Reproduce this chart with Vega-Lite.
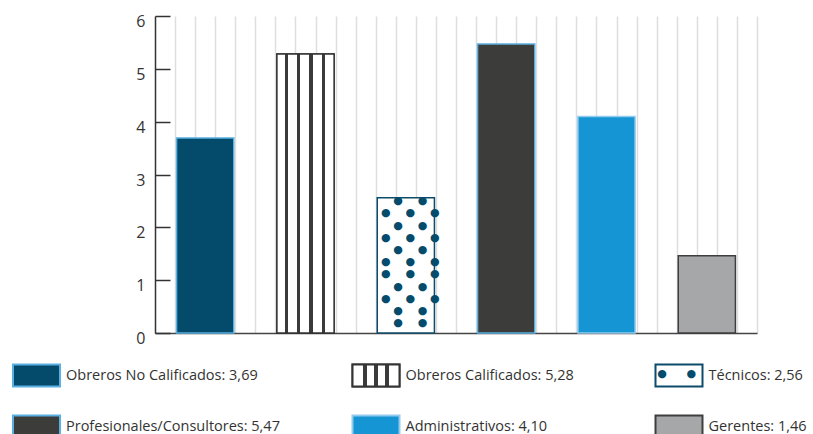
{
  "$schema": "https://vega.github.io/schema/vega-lite/v6.json",
  "autosize": {"type": "none"},
  "width": 602,
  "height": 317,
  "padding": {"left": 155, "top": 16, "right": 56, "bottom": 101},
  "background": "white",
  "config": {"view": {"stroke": null}, "font": "Open Sans"},
  "datasets": {
    "d": [
      {"cat": "Obreros No Calificados", "value": 3.69, "label": "Obreros No Calificados: 3,69"},
      {"cat": "Obreros Calificados", "value": 5.28, "label": "Obreros Calificados: 5,28"},
      {"cat": "Técnicos", "value": 2.56, "label": "Técnicos: 2,56"},
      {"cat": "Profesionales/Consultores", "value": 5.47, "label": "Profesionales/Consultores: 5,47"},
      {"cat": "Administrativos", "value": 4.10, "label": "Administrativos: 4,10"},
      {"cat": "Gerentes", "value": 1.46, "label": "Gerentes: 1,46"}
    ]
  },
  "data": {"name": "d"},
  "layer": [
    {
      "mark": {"type": "rule", "opacity": 0},
      "encoding": {
        "x": {
          "datum": 0,
          "type": "quantitative",
          "scale": {"domain": [0, 30], "nice": false, "zero": false},
          "axis": {
            "orient": "bottom",
            "values": [1,2,3,4,5,6,7,8,9,10,11,12,13,14,15,16,17,18,19,20,21,22,23,24,25,26,27,28,29,30],
            "grid": true,
            "gridColor": "#dedede",
            "gridWidth": 1.5,
            "labels": false,
            "ticks": false,
            "domain": true,
            "domainColor": "#444444",
            "domainWidth": 1.5,
            "title": null
          }
        }
      }
    },
    {
      "layer": [
        {
          "mark": {"type": "bar", "strokeWidth": 1.5},
          "encoding": {
            "x": {
              "field": "cat",
              "type": "nominal",
              "sort": null,
              "scale": {
                "domain": ["Obreros No Calificados", "Obreros Calificados", "Técnicos", "Profesionales/Consultores", "Administrativos", "Gerentes"],
                "paddingInner": 0.43,
                "paddingOuter": 0.215
              },
              "axis": null
            },
            "y": {
              "field": "value",
              "type": "quantitative",
              "scale": {"domain": [0, 6], "nice": false},
              "axis": {
                "orient": "left",
                "values": [0, 1, 2, 3, 4, 5, 6],
                "grid": false,
                "domain": true,
                "domainColor": "#333333",
                "domainWidth": 1.5,
                "ticks": true,
                "tickSize": -15,
                "tickColor": "#333333",
                "tickWidth": 1.5,
                "labelPadding": 25,
                "labelOffset": 5.5,
                "labelFontSize": 16,
                "labelColor": "#333333",
                "labelFont": "Open Sans",
                "title": null
              }
            },
            "fill": {
              "field": "cat",
              "type": "nominal",
              "scale": {
                "domain": ["Obreros No Calificados", "Obreros Calificados", "Técnicos", "Profesionales/Consultores", "Administrativos", "Gerentes"],
                "range": ["#044b6b", "#ffffff", "#ffffff", "#3c3c3b", "#1595d4", "#a6a7a9"]
              },
              "legend": null
            },
            "stroke": {
              "field": "cat",
              "type": "nominal",
              "scale": {
                "domain": ["Obreros No Calificados", "Obreros Calificados", "Técnicos", "Profesionales/Consultores", "Administrativos", "Gerentes"],
                "range": ["#5ab0e2", "#333333", "#0d4b6b", "#5ab0e2", "#92cbee", "#3e3e3e"]
              },
              "legend": null
            }
          }
        },
        {
          "transform": [{"filter": "datum.cat === 'Obreros Calificados'"}],
          "mark": {
            "type": "bar",
            "stroke": "#333333",
            "strokeWidth": 1.5,
            "fill": {
              "gradient": "linear",
              "x1": 0, "x2": 1, "y1": 0, "y2": 0,
              "stops": [
                {"offset": 0, "color": "#ffffff"},
                {"offset": 0.14, "color": "#ffffff"},
                {"offset": 0.14, "color": "#3a3a3a"},
                {"offset": 0.2, "color": "#3a3a3a"},
                {"offset": 0.2, "color": "#ffffff"},
                {"offset": 0.345, "color": "#ffffff"},
                {"offset": 0.345, "color": "#3a3a3a"},
                {"offset": 0.405, "color": "#3a3a3a"},
                {"offset": 0.405, "color": "#ffffff"},
                {"offset": 0.56, "color": "#ffffff"},
                {"offset": 0.56, "color": "#3a3a3a"},
                {"offset": 0.625, "color": "#3a3a3a"},
                {"offset": 0.625, "color": "#ffffff"},
                {"offset": 0.785, "color": "#ffffff"},
                {"offset": 0.785, "color": "#3a3a3a"},
                {"offset": 0.845, "color": "#3a3a3a"},
                {"offset": 0.845, "color": "#ffffff"},
                {"offset": 1, "color": "#ffffff"}
              ]
            }
          },
          "encoding": {
            "x": {"field": "cat", "type": "nominal", "sort": null},
            "y": {"field": "value", "type": "quantitative"}
          }
        },
        {
          "transform": [{"filter": "datum.cat === 'Técnicos'"}],
          "mark": {
            "type": "text",
            "font": "DejaVu Sans",
            "fontSize": 11,
            "lineHeight": 12.2,
            "baseline": "top",
            "align": "center",
            "dx": 4.5,
            "dy": -2.5,
            "color": "#054b6b",
            "text": [
              "●\u00a0\u00a0\u00a0\u2009\u2009●",
              "●\u00a0\u00a0\u00a0\u2009\u2009●\u00a0\u00a0\u00a0\u2009\u2009●",
              "●\u00a0\u00a0\u00a0\u2009\u2009●",
              "●\u00a0\u00a0\u00a0\u2009\u2009●\u00a0\u00a0\u00a0\u2009\u2009●",
              "●\u00a0\u00a0\u00a0\u2009\u2009●",
              "●\u00a0\u00a0\u00a0\u2009\u2009●\u00a0\u00a0\u00a0\u2009\u2009●",
              "●\u00a0\u00a0\u00a0\u2009\u2009●\u00a0\u00a0\u00a0\u2009\u2009●",
              "●\u00a0\u00a0\u00a0\u2009\u2009●",
              "●\u00a0\u00a0\u00a0\u2009\u2009●\u00a0\u00a0\u00a0\u2009\u2009●",
              "●\u00a0\u00a0\u00a0\u2009\u2009●",
              "●\u00a0\u00a0\u00a0\u2009\u2009●"
            ]
          },
          "encoding": {
            "x": {"field": "cat", "type": "nominal", "sort": null},
            "y": {"field": "value", "type": "quantitative"}
          }
        }
      ]
    },
    {
      "transform": [
        {"window": [{"op": "row_number", "as": "rn"}]},
        {"calculate": "(datum.rn - 1) % 3", "as": "col"},
        {"calculate": "floor((datum.rn - 1) / 3)", "as": "row"}
      ],
      "encoding": {
        "x": {"field": "col", "type": "quantitative", "scale": {"domain": [0, 1, 2], "range": [-118.5, 221, 524], "zero": false, "nice": false}, "axis": null},
        "y": {"field": "row", "type": "quantitative", "scale": {"domain": [0, 1], "range": [359.5, 410.5], "zero": false, "nice": false}, "axis": null}
      },
      "layer": [
        {
          "mark": {"type": "rect", "width": 47, "height": 22, "strokeWidth": 2},
          "encoding": {
            "fill": {"field": "cat", "type": "nominal", "legend": null},
            "stroke": {"field": "cat", "type": "nominal", "legend": null}
          }
        },
        {
          "transform": [{"filter": "datum.cat === 'Obreros Calificados'"}],
          "mark": {
            "type": "rect", "width": 47, "height": 22, "stroke": "#333333", "strokeWidth": 2,
            "fill": {
              "gradient": "linear",
              "x1": 0, "x2": 1, "y1": 0, "y2": 0,
              "stops": [
                {"offset": 0, "color": "#ffffff"},
                {"offset": 0.22, "color": "#ffffff"},
                {"offset": 0.22, "color": "#3a3a3a"},
                {"offset": 0.3, "color": "#3a3a3a"},
                {"offset": 0.3, "color": "#ffffff"},
                {"offset": 0.46, "color": "#ffffff"},
                {"offset": 0.46, "color": "#3a3a3a"},
                {"offset": 0.54, "color": "#3a3a3a"},
                {"offset": 0.54, "color": "#ffffff"},
                {"offset": 0.7, "color": "#ffffff"},
                {"offset": 0.7, "color": "#3a3a3a"},
                {"offset": 0.78, "color": "#3a3a3a"},
                {"offset": 0.78, "color": "#ffffff"},
                {"offset": 1, "color": "#ffffff"}
              ]
            }
          }
        },
        {
          "transform": [{"filter": "datum.cat === 'Técnicos'"}],
          "mark": {"type": "text", "font": "DejaVu Sans", "fontSize": 11, "baseline": "middle", "align": "center", "dx": -2.3, "dy": -1.5, "color": "#054b6b", "text": "●\u00a0\u00a0\u00a0\u00a0\u00a0\u2009●"}
        },
        {
          "mark": {"type": "text", "align": "left", "baseline": "middle", "dx": 29.5, "fontSize": 14.5, "color": "#333333", "font": "Open Sans"},
          "encoding": {"text": {"field": "label"}}
        }
      ]
    }
  ],
  "resolve": {
    "scale": {"x": "independent", "y": "independent"},
    "axis": {"x": "independent", "y": "independent"}
  }
}
